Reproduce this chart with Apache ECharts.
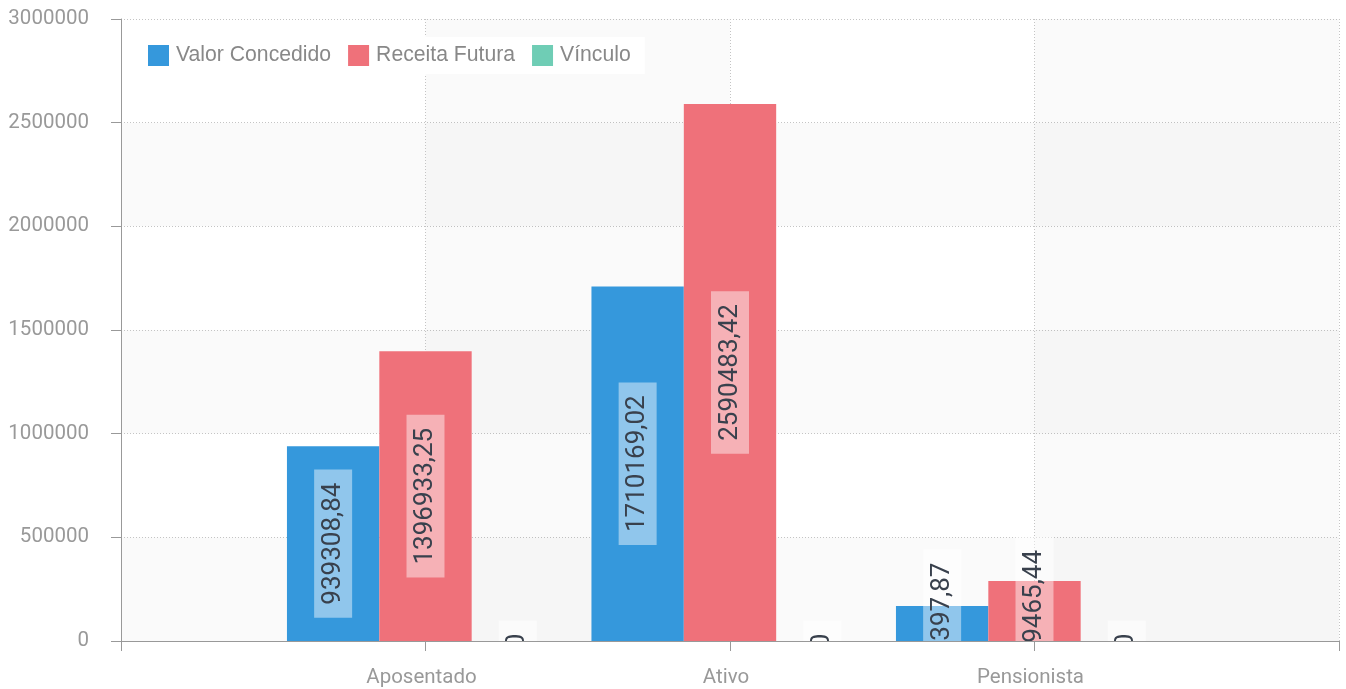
<!DOCTYPE html>
<html>
<head>
<meta charset="utf-8">
<script src="https://cdn.jsdelivr.net/npm/echarts@6/dist/echarts.min.js"></script>
<style>
html, body { margin: 0; padding: 0; background: #fff; }
#chart { width: 1346px; height: 689px; }
</style>
</head>
<body>
<div id="chart"></div>
<script>
// categorias (com pontas vazias para o eixo sem boundaryGap)
var categorias = ['', 'Aposentado', 'Ativo', 'Pensionista', ''];
var valorConcedido = [null, 939308.84, 1710169.02, 168397.87, null];
var receitaFutura = [null, 1396933.25, 2590483.42, 289465.44, null];
var vinculo = [null, 0, 0, 0, null];
var yTicks = { min: 0, max: 3000000, interval: 500000 };

var chartDom = document.getElementById('chart');
var myChart = echarts.init(chartDom);
var fonte = 'Roboto, "Liberation Sans", sans-serif';
var fonteLegenda = '"Liberation Sans", Arial, sans-serif';

function formata(p) {
	var v = p.value;
	if (v === 0) return '0';
	return v.toFixed(2).replace('.', ',');
}

var rotulo = {
	show: true,
	position: 'inside',
	rotate: 90,
	formatter: formata,
	fontFamily: fonte,
	fontSize: 26,
	color: '#39414d',
	backgroundColor: 'rgba(255,255,255,0.45)',
	padding: [6, 13],
};

var linhaPontilhada = { color: '#c4c4c4', type: [1, 2] };

var option = {
	animation: false,
	color: ['#3598dc', '#ef717a', '#6fcdb5'],
	textStyle: { fontFamily: fonte },
	grid: { left: 121, right: 7, top: 19, bottom: 48 },
	legend: {
		left: 140,
		top: 37,
		padding: [8, 14, 8, 8],
		backgroundColor: '#fff',
		icon: 'rect',
		itemWidth: 21,
		itemHeight: 21,
		itemGap: 17,
		textStyle: { fontSize: 21.2, color: '#888', fontFamily: fonteLegenda, padding: [0, 0, 0, 2] },
		data: ['Valor Concedido', 'Receita Futura', 'Vínculo'],
	},
	// mascara branca abaixo da area do grid (os rotulos sao cortados no eixo)
	graphic: {
		elements: [
			{
				type: 'rect',
				left: 122,
				bottom: 0,
				z: 5,
				silent: true,
				shape: { width: 1224, height: 47 },
				style: { fill: '#fff' },
			},
		],
	},
	xAxis: [
		{
			type: 'category',
			data: categorias,
			boundaryGap: false,
			axisLine: { show: false },
			axisTick: { show: false },
			axisLabel: { show: false },
			splitLine: { show: true, lineStyle: linhaPontilhada },
			splitArea: { show: true, areaStyle: { color: ['rgba(0,0,0,0)', 'rgba(0,0,0,0.02)'] } },
		},
		{
			type: 'category',
			data: categorias,
			position: 'bottom',
			boundaryGap: false,
			z: 10,
			axisLine: { show: true, lineStyle: { color: '#999' } },
			axisTick: { show: true, length: 10, lineStyle: { color: '#999' } },
			axisLabel: { color: '#999', fontSize: 20.5, margin: 26, fontFamily: fonte, padding: [0, 8, 0, 0] },
			splitLine: { show: false },
		},
	],
	yAxis: {
		type: 'value',
		min: yTicks.min,
		max: yTicks.max,
		interval: yTicks.interval,
		axisLine: { show: true, lineStyle: { color: '#999' } },
		axisTick: { show: true, length: 10, lineStyle: { color: '#999' } },
		axisLabel: {
			color: '#999',
			fontSize: 20.5,
			margin: 32,
			fontFamily: fonte,
			formatter: function (v) {
				return String(v);
			},
		},
		splitLine: { show: true, lineStyle: linhaPontilhada },
		splitArea: { show: true, areaStyle: { color: ['rgba(0,0,0,0.02)', 'rgba(0,0,0,0)'] } },
	},
	series: [
		{ name: 'Valor Concedido', type: 'bar', data: valorConcedido, barGap: 0, barCategoryGap: '9%', label: rotulo },
		{ name: 'Receita Futura', type: 'bar', data: receitaFutura, barGap: 0, barCategoryGap: '9%', label: rotulo },
		{ name: 'Vínculo', type: 'bar', data: vinculo, barGap: 0, barCategoryGap: '9%', label: rotulo },
	],
};
myChart.setOption(option);
window.addEventListener('resize', function () {
	myChart.resize();
});
</script>
</body>
</html>
